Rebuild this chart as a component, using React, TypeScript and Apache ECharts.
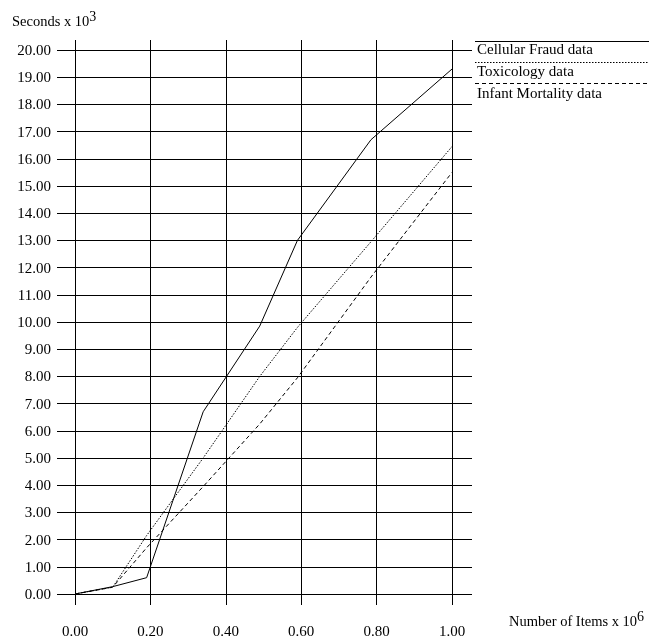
import React, { useEffect, useRef } from 'react';
import * as echarts from 'echarts';

const seriesNames = ['Cellular Fraud data', 'Toxicology data', 'Infant Mortality data'];
const itemCounts = [0, 0.1, 0.19, 0.34, 0.49, 0.59, 0.785, 1.0];
const cellularFraud = [0, 0.27, 0.6, 6.7, 9.85, 13.0, 16.7, 19.3];
const toxicology = [0, 0.25, 2.15, 5.0, 8.0, 9.8, 12.95, 16.45];
const infantMortality = [0, 0.25, 1.7, 3.95, 6.25, 7.95, 11.65, 15.5];
const yTitle = 'Seconds x 10';
const yTitleExp = '3';
const xTitle = 'Number of Items x 10';
const xTitleExp = '6';

const FONT = '"Liberation Serif", "Times New Roman", serif';

export default function App() {
  const ref = useRef<HTMLDivElement>(null);
  useEffect(() => {
    const chart = echarts.init(ref.current as HTMLDivElement, null, { renderer: 'svg' });
    const dashes: any[] = ['solid', [1.5, 1.5], [4, 3]];
    const seriesData = [cellularFraud, toxicology, infantMortality];
    const ls = { color: '#000', width: 1 };
    const labelStyle = { fontFamily: FONT, fontSize: 15, color: '#000' };
    const fmt = (v: number) => v.toFixed(2);
    const rich = {
      a: { fontFamily: FONT, fontSize: 14.5, lineHeight: 19, verticalAlign: 'bottom', fill: '#000', color: '#000' },
      b: { fontFamily: FONT, fontSize: 14, lineHeight: 14, verticalAlign: 'top', fill: '#000', color: '#000' },
    };
    const legendEls: any[] = [];
    seriesNames.forEach((name, i) => {
      legendEls.push({
        type: 'line',
        shape: { x1: 475, y1: 41.5 + 21 * i, x2: 649, y2: 41.5 + 21 * i },
        style: { stroke: '#000', lineWidth: 1, lineDash: i === 0 ? null : dashes[i] },
        silent: true,
      });
      legendEls.push({
        type: 'text',
        x: 477,
        y: 49 + 22 * i,
        style: { text: name, fontFamily: FONT, fontSize: 15, fill: '#000', verticalAlign: 'middle', align: 'left' },
        silent: true,
      });
    });
    chart.setOption({
      animation: false,
      grid: { left: 75, right: 197, top: 50, bottom: 49 },
      xAxis: [
        {
          type: 'value', min: 0, max: 1, interval: 0.2, position: 'bottom',
          axisLine: { show: true, onZero: false, lineStyle: ls },
          axisTick: { show: true, inside: false, length: 11, lineStyle: ls },
          axisLabel: { margin: 29, formatter: fmt, ...labelStyle },
          splitLine: { show: true, lineStyle: ls },
        },
        {
          type: 'value', min: 0, max: 1, interval: 0.2, position: 'top',
          axisLine: { show: true, onZero: false, lineStyle: ls },
          axisTick: { show: true, inside: false, length: 10, lineStyle: ls },
          axisLabel: { show: false },
          splitLine: { show: false },
        },
      ],
      yAxis: [
        {
          type: 'value', min: 0, max: 20, interval: 1, position: 'left',
          axisLine: { show: true, onZero: false, lineStyle: ls },
          axisTick: { show: true, inside: false, length: 18, lineStyle: ls },
          axisLabel: { margin: 24, formatter: fmt, ...labelStyle },
          splitLine: { show: true, lineStyle: ls },
        },
        {
          type: 'value', min: 0, max: 20, interval: 1, position: 'right',
          axisLine: { show: true, onZero: false, lineStyle: ls },
          axisTick: { show: true, inside: false, length: 20, lineStyle: ls },
          axisLabel: { show: false },
          splitLine: { show: false },
        },
      ],
      series: seriesData.map((d, i) => ({
        type: 'line',
        name: seriesNames[i],
        xAxisIndex: 0,
        yAxisIndex: 0,
        data: itemCounts.map((x, j) => [x, d[j]]),
        symbol: 'none',
        showSymbol: false,
        silent: true,
        lineStyle: { color: '#000', width: 1, type: dashes[i] },
      })),
      graphic: [
        ...legendEls,
        {
          type: 'text', x: 12, y: 9,
          style: { text: `{a|${yTitle}}{b|${yTitleExp}}`, rich, verticalAlign: 'top', align: 'left' },
          silent: true,
        },
        {
          type: 'text', x: 509, y: 609,
          style: { text: `{a|${xTitle}}{b|${xTitleExp}}`, rich, verticalAlign: 'top', align: 'left' },
          silent: true,
        },
      ],
    });
    return () => chart.dispose();
  }, []);
  return <div ref={ref} style={{ position: 'fixed', left: 0, top: 0, width: 649, height: 643 }} />;
}
